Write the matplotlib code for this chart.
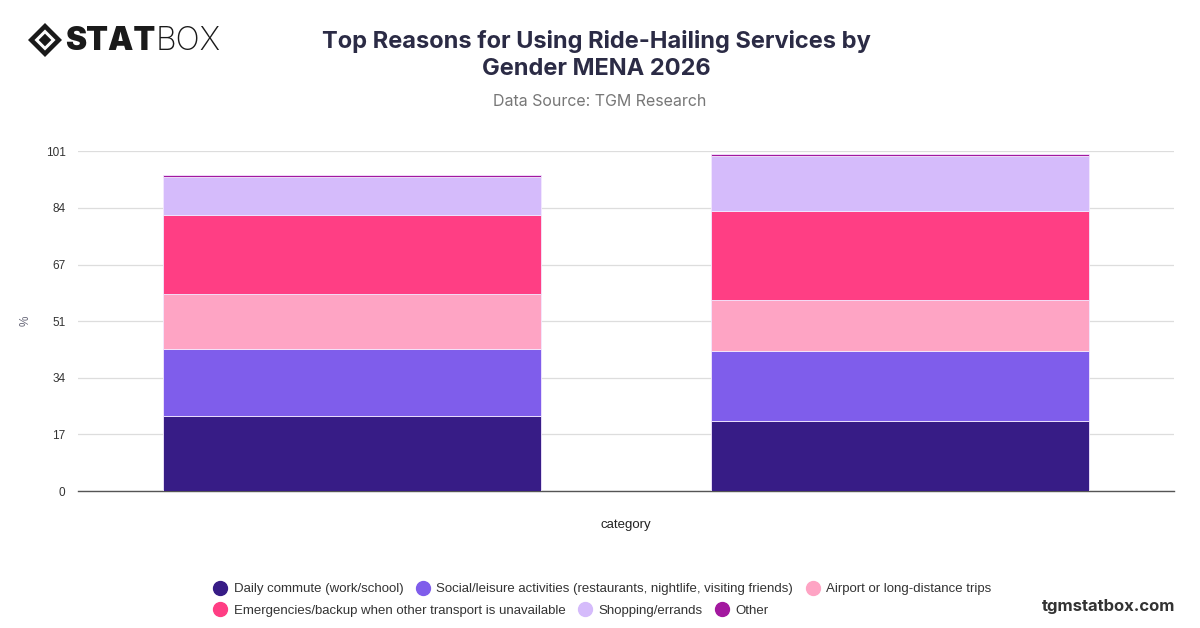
import matplotlib
matplotlib.use("Agg")
import matplotlib.pyplot as plt
from matplotlib.lines import Line2D
from matplotlib.patches import Polygon
import numpy as np

plt.rcParams['font.family'] = ['Inter', 'DejaVu Sans']
small_font = ['Liberation Sans', 'DejaVu Sans']

# data (percent)
categories = ["Male", "Female"]
reasons = [
    "Daily commute (work/school)",
    "Social/leisure activities (restaurants, nightlife, visiting friends)",
    "Airport or long-distance trips",
    "Emergencies/backup when other transport is unavailable",
    "Shopping/errands",
    "Other",
]
daily_commute = [22.4, 20.8]
social_leisure = [19.8, 20.9]
airport_trips = [16.5, 15.2]
emergencies = [23.4, 26.4]
shopping = [11.2, 16.3]
other = [0.7, 0.5]
y_ticks = [0, 17, 34, 51, 67, 84, 101]

colors = ["#371c86", "#7f5deb", "#fea4c4", "#ff3e84", "#d5bbfb", "#a3189f"]
series = [daily_commute, social_leisure, airport_trips, emergencies, shopping, other]

fig = plt.figure(figsize=(12, 6.28), dpi=100)
ax = fig.add_axes([0.065, 0.218, 0.913, 0.541])

x = np.arange(len(categories))
bottom = np.zeros(len(categories))
for vals, col, name in zip(series, colors, reasons):
    ax.bar(x, vals, bottom=bottom, width=0.69, color=col, label=name,
           edgecolor="#f3e8ff", linewidth=0.6, zorder=3)
    bottom += np.array(vals)

ax.set_xlim(-0.5, 1.5)
ax.set_ylim(0, 101)
ax.set_yticks(np.linspace(0, 101, 7))
ax.set_yticklabels([str(t) for t in y_ticks], fontsize=8.5, color="#333333", family=small_font)
ax.set_xticks([])
ax.grid(axis="y", color="#dddddd", linewidth=0.9, zorder=0)
ax.tick_params(axis="y", length=0, pad=9)
for s in ["top", "right", "left"]:
    ax.spines[s].set_visible(False)
ax.spines["bottom"].set_color("#555555")
ax.spines["bottom"].set_linewidth(1.0)
ax.set_xlabel("category", fontsize=9.5, color="#222222", labelpad=20, family=small_font)
ax.set_ylabel("%", fontsize=8.5, color="#666677", labelpad=10, family=small_font)

# titles
fig.text(0.497, 0.913, "Top Reasons for Using Ride-Hailing Services by\nGender MENA 2026",
         ha="center", va="center", fontsize=17, fontweight="bold", color="#2b2b45",
         linespacing=1.3)
fig.text(0.5, 0.839, "Data Source: TGM Research", ha="center", va="center",
         fontsize=11.5, color="#777777")

# legend, two rows sharing the same left edge
handles = [Line2D([], [], marker="o", linestyle="", markersize=10,
                  markerfacecolor=c, markeredgecolor=c) for c in colors]
leg_kw = dict(frameon=False, prop={"family": small_font, "size": 9.5}, handletextpad=0.4,
              columnspacing=0.9, borderaxespad=0, borderpad=0, handlelength=1.2)
leg1 = fig.legend(handles[:3], reasons[:3], ncol=3, loc="center left",
                  bbox_to_anchor=(0.177, 0.062), **leg_kw)
for t in leg1.get_texts():
    t.set_color("#333333")
leg2 = fig.legend(handles[3:], reasons[3:], ncol=3, loc="center left",
                  bbox_to_anchor=(0.177, 0.028), **leg_kw)
for t in leg2.get_texts():
    t.set_color("#333333")

fig.text(0.979, 0.035, "tgmstatbox.com", ha="right", va="center",
         fontsize=12, fontweight="bold", color="#333333")

# logo
cx, cy = 45 / 1200, 1 - 40 / 628
w, h = 17 / 1200, 17 / 628
outer = Polygon([(cx - w, cy), (cx, cy + h), (cx + w, cy), (cx, cy - h)],
                closed=True, transform=fig.transFigure, facecolor="#1a1a1a")
inner_w, inner_h = w * 0.62, h * 0.62
inner_white = Polygon([(cx - inner_w, cy), (cx, cy + inner_h), (cx + inner_w, cy), (cx, cy - inner_h)],
                      closed=True, transform=fig.transFigure, facecolor="white")
core = Polygon([(cx - inner_w * 0.6, cy), (cx, cy + inner_h * 0.6), (cx + inner_w * 0.6, cy),
                (cx, cy - inner_h * 0.6)],
               closed=True, transform=fig.transFigure, facecolor="#1a1a1a")
for p in (outer, inner_white, core):
    fig.patches.append(p)
t1 = fig.text(65 / 1200, 1 - 41 / 628, "STAT", ha="left", va="center",
              fontsize=23, fontweight="black", color="#1a1a1a")
fig.canvas.draw()
bb = t1.get_window_extent()
fig.text(bb.x1 / 1200, 1 - 41 / 628, "BOX", ha="left", va="center",
         fontsize=23, fontweight="light", color="#1a1a1a")

fig.savefig("out.png", dpi=100)
